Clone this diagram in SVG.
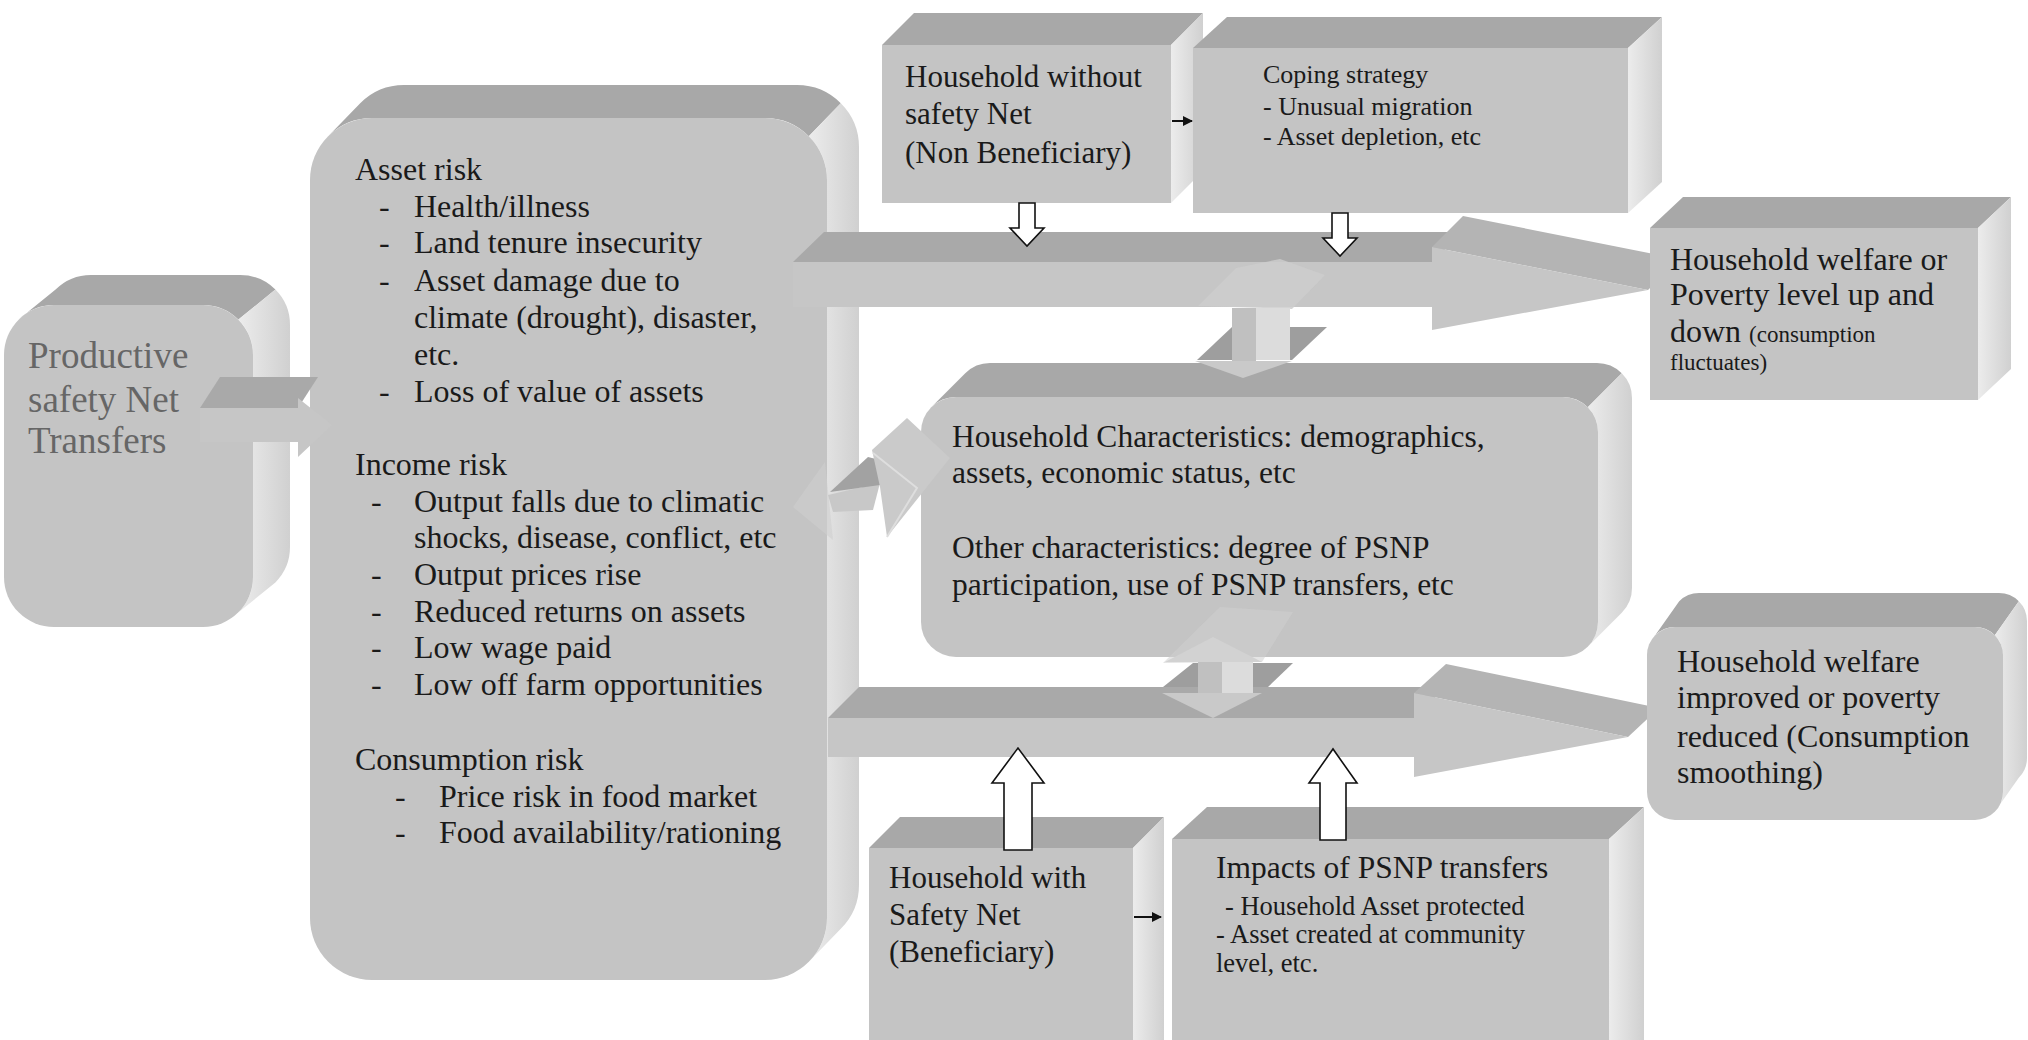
<svg xmlns="http://www.w3.org/2000/svg" width="2028" height="1040" viewBox="0 0 2028 1040">
<defs>
<linearGradient id="sideG" x1="0" y1="0" x2="1" y2="0">
<stop offset="0" stop-color="#ececec"/><stop offset="1" stop-color="#d0d0d0"/>
</linearGradient>
<marker id="ah" markerWidth="10" markerHeight="10" refX="9" refY="5" orient="auto" markerUnits="userSpaceOnUse">
<path d="M0,0 L10,5 L0,10 z" fill="#111"/>
</marker>
<style>
.front{fill:#c4c4c4}
.top{fill:#a8a8a8}
.side{fill:url(#sideG)}
.afront{fill:#c6c6c6}
.atop{fill:#a9a9a9}
.afacet{fill:#b4b4b4}
.hollow{fill:#fff;stroke:#111;stroke-width:1.6}
.small{stroke:#111;stroke-width:2;marker-end:url(#ah)}
.t{font-family:"Liberation Serif","Times New Roman",serif;fill:#1a1a1a}
.tg{font-family:"Liberation Serif","Times New Roman",serif;fill:#666}
</style>
</defs>
<rect width="2028" height="1040" fill="#fff"/>

<g id="node-psnp-transfers">
<path class="top" d="M18.6,319.6 A50,50 0 0 1 54,305 L203,305 A50,50 0 0 1 238.4,319.6 L275.4,289.6 A50,50 0 0 0 240,275 L91,275 A50,50 0 0 0 55.6,289.6 Z"/>
<path class="side" d="M238.4,319.6 A50,50 0 0 1 253,355 L253,577 A50,50 0 0 1 238.4,612.4 L275.4,582.4 A50,50 0 0 0 290,547 L290,325 A50,50 0 0 0 275.4,289.6 Z"/>
<rect class="front" x="4" y="305" width="249" height="322" rx="50"/>
<text class="tg" font-size="37"><tspan x="28" y="368">Productive</tspan><tspan x="28" y="412">safety Net</tspan><tspan x="28" y="453">Transfers</tspan></text>
</g>

<g id="node-risks">
<path class="top" d="M328.2,136.2 A62,62 0 0 1 372,118 L765,118 A62,62 0 0 1 808.8,136.2 L840.8,103.2 A62,62 0 0 0 797,85 L404,85 A62,62 0 0 0 360.2,103.2 Z"/>
<path class="side" d="M808.8,136.2 A62,62 0 0 1 827,180 L827,918 A62,62 0 0 1 808.8,961.8 L840.8,928.8 A62,62 0 0 0 859,885 L859,147 A62,62 0 0 0 840.8,103.2 Z"/>
<rect class="front" x="310" y="118" width="517" height="862" rx="62"/>
<text class="t" font-size="32">
<tspan x="355" y="180">Asset risk</tspan>
<tspan x="379" y="217">-</tspan><tspan x="414" y="217">Health/illness</tspan>
<tspan x="379" y="253">-</tspan><tspan x="414" y="253">Land tenure insecurity</tspan>
<tspan x="379" y="291">-</tspan><tspan x="414" y="291">Asset damage due to</tspan>
<tspan x="414" y="328">climate (drought), disaster,</tspan>
<tspan x="414" y="365">etc.</tspan>
<tspan x="379" y="402">-</tspan><tspan x="414" y="402">Loss of value of assets</tspan>
<tspan x="355" y="475">Income risk</tspan>
<tspan x="371" y="512">-</tspan><tspan x="414" y="512">Output falls due to climatic</tspan>
<tspan x="414" y="548">shocks, disease, conflict, etc</tspan>
<tspan x="371" y="585">-</tspan><tspan x="414" y="585">Output prices rise</tspan>
<tspan x="371" y="622">-</tspan><tspan x="414" y="622">Reduced returns on assets</tspan>
<tspan x="371" y="658">-</tspan><tspan x="414" y="658">Low wage paid</tspan>
<tspan x="371" y="695">-</tspan><tspan x="414" y="695">Low off farm opportunities</tspan>
<tspan x="355" y="770">Consumption risk</tspan>
<tspan x="395" y="807">-</tspan><tspan x="439" y="807">Price risk in food market</tspan>
<tspan x="395" y="843">-</tspan><tspan x="439" y="843">Food availability/rationing</tspan>
</text>
</g>

<g id="node-hh-without">
<polygon class="top" points="882,45 914,13 1203,13 1171,45"/>
<polygon class="side" points="1171,45 1203,13 1203,171 1171,203"/>
<rect class="front" x="882" y="45" width="289" height="158"/>
<text class="t" font-size="31"><tspan x="905" y="87">Household without</tspan><tspan x="905" y="124">safety Net</tspan><tspan x="905" y="163">(Non Beneficiary)</tspan></text>
</g>

<g id="node-coping">
<polygon class="top" points="1193,48 1227,17 1662,17 1628,48"/>
<polygon class="side" points="1628,48 1662,17 1662,182 1628,213"/>
<rect class="front" x="1193" y="48" width="435" height="165"/>
<text class="t" font-size="26"><tspan x="1263" y="83">Coping strategy</tspan><tspan x="1263" y="115">- Unusual migration</tspan><tspan x="1263" y="145">- Asset depletion, etc</tspan></text>
</g>

<g id="node-characteristics">
<path class="top" d="M931.25,407.25 A35,35 0 0 1 956,397 L1563,397 A35,35 0 0 1 1587.75,407.25 L1621.75,373.25 A35,35 0 0 0 1597,363 L990,363 A35,35 0 0 0 965.25,373.25 Z"/>
<path class="side" d="M1587.75,407.25 A35,35 0 0 1 1598,432 L1598,622 A35,35 0 0 1 1587.75,646.75 L1621.75,612.75 A35,35 0 0 0 1632,588 L1632,398 A35,35 0 0 0 1621.75,373.25 Z"/>
<rect class="front" x="921" y="397" width="677" height="260" rx="35"/>
<text class="t" font-size="31.5"><tspan x="952" y="447">Household Characteristics: demographics,</tspan><tspan x="952" y="483">assets, economic status, etc</tspan><tspan x="952" y="558">Other characteristics: degree of PSNP</tspan><tspan x="952" y="595">participation, use of PSNP transfers, etc</tspan></text>
</g>

<g id="node-hh-with">
<polygon class="top" points="869,848 900,817 1164,817 1133,848"/>
<polygon class="side" points="1133,848 1164,817 1164,1045 1133,1045"/>
<rect class="front" x="869" y="848" width="264" height="197"/>
<text class="t" font-size="31"><tspan x="889" y="888">Household with</tspan><tspan x="889" y="925">Safety Net</tspan><tspan x="889" y="962">(Beneficiary)</tspan></text>
</g>

<g id="node-impacts">
<polygon class="top" points="1172,839 1207,807 1644,807 1609,839"/>
<polygon class="side" points="1609,839 1644,807 1644,1045 1609,1045"/>
<rect class="front" x="1172" y="839" width="437" height="206"/>
<text class="t"><tspan x="1216" y="878" font-size="31.5">Impacts of PSNP transfers</tspan><tspan x="1225" y="915" font-size="26.5">- Household Asset protected</tspan><tspan x="1216" y="943" font-size="26.5">- Asset created at community</tspan><tspan x="1216" y="972" font-size="26.5">level, etc.</tspan></text>
</g>

<g id="connectors">
<!-- PSNP transfers to risks -->
<g id="arrow-transfers-risks">
<polygon class="atop" points="200,408 220,377 318,377 298,408"/>
<polygon class="afront" points="200,408 298,408 298,398 332,425 298,457 298,442 200,442"/>
</g>
<!-- top 3D arrow -->
<g id="arrow-top">
<polygon class="atop" points="793,262 824,232 1463,232 1432,262"/>
<polygon class="afacet" points="1432,247 1463,216 1679,259 1648,290"/>
<polygon class="afront" points="793,262 1432,262 1432,247 1648,290 1432,330 1432,307 793,307"/>
</g>
<!-- bottom 3D arrow -->
<g id="arrow-bottom">
<polygon class="atop" points="828,718 859,687 1446,687 1414,718"/>
<polygon class="afacet" points="1414,693 1446,664 1659,708 1628,737"/>
<polygon class="afront" points="828,718 1414,718 1414,693 1628,737 1414,777 1414,757 828,757"/>
</g>
<!-- risks to characteristics -->
<g id="arrow-risks-characteristics">
<polygon fill="#cfcfcf" opacity="0.6" points="793,507 825,462 833,540"/>
<polygon fill="#c8c8c8" points="828,495 880,483 873,510 833,512"/>
<polygon fill="#a2a2a2" points="830,492 868,457 880,460 880,485"/>
<polygon fill="#cacaca" points="872,450 907,418 950,458 887,537 880,487"/>
<polyline fill="none" stroke="#dedede" stroke-width="2" points="873,453 917,488 887,537"/>
</g>
<!-- upper double arrow -->
<g id="arrow-top-characteristics">
<polygon fill="#cdcdcd" opacity="0.85" points="1198,306 1236,268 1280,259 1325,275 1292,309"/>
<polygon fill="#9e9e9e" points="1197,360 1232,327 1327,327 1292,360"/>
<rect x="1232" y="308" width="24" height="54" fill="#c0c0c0"/>
<rect x="1256" y="308" width="34" height="52" fill="#dcdcdc"/>
<polygon fill="#c9c9c9" points="1195,361 1292,361 1243,378"/>
</g>
<!-- lower double arrow -->
<g id="arrow-characteristics-bottom">
<polygon fill="#d0d0d0" opacity="0.55" points="1163,663 1220,607 1293,612 1262,662"/>
<polygon fill="#9e9e9e" points="1163,687 1193,663 1293,663 1268,687"/>
<polygon fill="#d2d2d2" points="1165,662 1213,637 1262,662"/>
<rect x="1198" y="662" width="24" height="31" fill="#c0c0c0"/>
<rect x="1222" y="662" width="31" height="31" fill="#dcdcdc"/>
<polygon fill="#c9c9c9" points="1162,693 1262,693 1213,718"/>
</g>
<!-- hollow arrows -->
<path class="hollow" d="M1019,203 L1035,203 L1035,228 L1044,228 L1027,246 L1010,228 L1019,228 Z"/>
<path class="hollow" d="M1332,213 L1348,213 L1348,238 L1357,238 L1340,256 L1323,238 L1332,238 Z"/>
<path class="hollow" d="M1004,850 L1032,850 L1032,783 L1044,783 L1018,748 L992,783 L1004,783 Z"/>
<path class="hollow" d="M1320,840 L1346,840 L1346,783 L1357,783 L1333,749 L1309,783 L1320,783 Z"/>
<!-- small black arrows -->
<line class="small" x1="1172" y1="121" x2="1192" y2="121"/>
<line class="small" x1="1134" y1="917" x2="1161" y2="917"/>
</g>

<g id="node-welfare-fluctuates">
<polygon class="top" points="1650,228 1683,197 2011,197 1978,228"/>
<polygon class="side" points="1978,228 2011,197 2011,369 1978,400"/>
<rect class="front" x="1650" y="228" width="328" height="172"/>
<text class="t" font-size="32"><tspan x="1670" y="270">Household welfare or</tspan><tspan x="1670" y="305">Poverty level up and</tspan><tspan x="1670" y="342">down <tspan font-size="23">(consumption</tspan></tspan><tspan x="1670" y="370" font-size="23">fluctuates)</tspan></text>
</g>

<g id="node-welfare-improved">
<path class="top" d="M1655.2,635.2 A28,28 0 0 1 1675,627 L1975,627 A28,28 0 0 1 1994.8,635.2 L2018.8,601.2 A28,28 0 0 0 1999,593 L1699,593 A28,28 0 0 0 1679.2,601.2 Z"/>
<path class="side" d="M1994.8,635.2 A28,28 0 0 1 2003,655 L2003,792 A28,28 0 0 1 1994.8,811.8 L2018.8,777.8 A28,28 0 0 0 2027,758 L2027,621 A28,28 0 0 0 2018.8,601.2 Z"/>
<rect class="front" x="1647" y="627" width="356" height="193" rx="28"/>
<text class="t" font-size="32"><tspan x="1677" y="672">Household welfare</tspan><tspan x="1677" y="708">improved or poverty</tspan><tspan x="1677" y="747">reduced (Consumption</tspan><tspan x="1677" y="783">smoothing)</tspan></text>
</g>
</svg>
